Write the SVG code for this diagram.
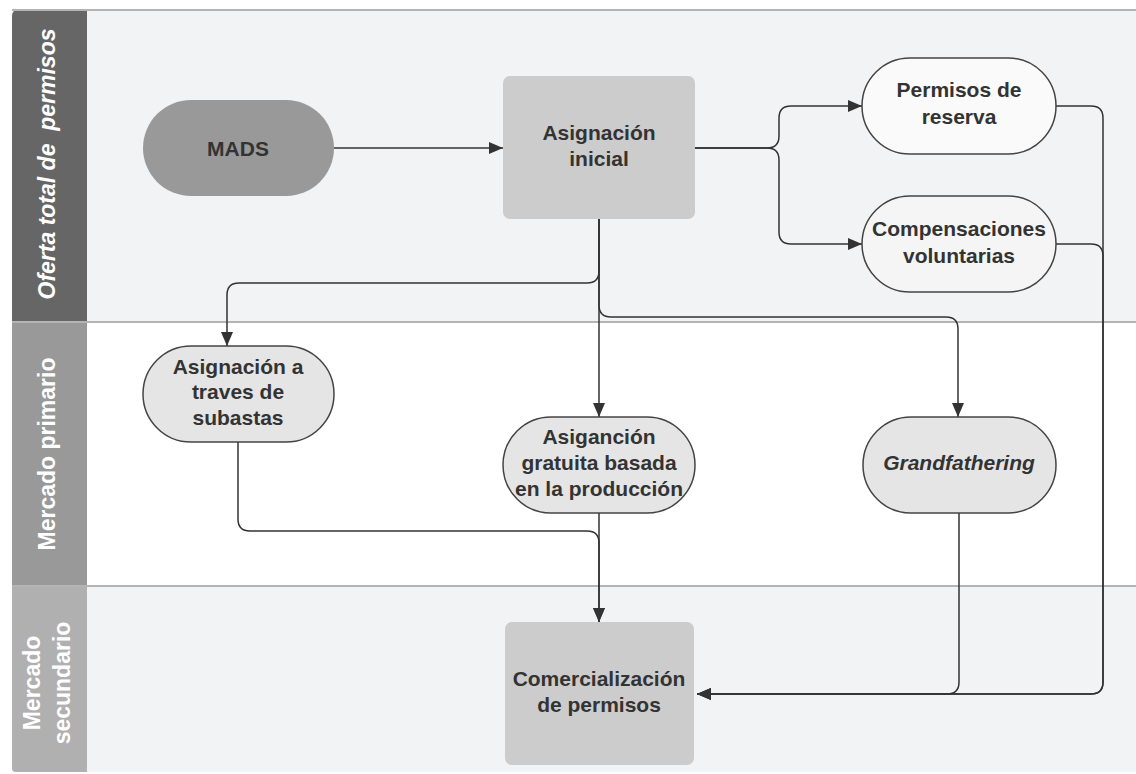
<svg xmlns="http://www.w3.org/2000/svg" width="1136" height="774" viewBox="0 0 1136 774">
<style>
.lbl{font-family:"Liberation Sans",Arial,sans-serif;font-weight:bold;fill:#fff;font-size:23px;text-anchor:middle}
.nt{font-family:"Liberation Sans",Arial,sans-serif;font-weight:bold;fill:#333;font-size:21px;text-anchor:middle}
.pill{stroke:#444;stroke-width:1.5}
.con{fill:none;stroke:#333;stroke-width:1.5}
.div{stroke:#b4b4b4;stroke-width:2}
</style>
<defs>
<marker id="ah" viewBox="0 0 14 12" refX="14" refY="6" markerWidth="14" markerHeight="12" markerUnits="userSpaceOnUse" orient="auto">
<path d="M0,0 L14,6 L0,12 z" fill="#333"/>
</marker>
</defs>
<rect width="1136" height="774" fill="#fff"/>
<g id="lanes">
<rect x="12" y="10" width="1130" height="312" fill="#f2f3f5"/>
<rect x="12" y="322" width="1130" height="264" fill="#ffffff"/>
<rect x="12" y="586" width="1130" height="186" fill="#f2f3f5"/>
<path d="M12,322 V16 Q12,10 18,10 H87 V322 z" fill="#666"/>
<rect x="12" y="323" width="75" height="262" fill="#999"/>
<path d="M12,587 H87 V772 H16 Q12,772 12,768 z" fill="#b0b0b0"/>
<line class="div" x1="12" y1="10" x2="1136" y2="10"/>
<line class="div" x1="12" y1="322" x2="1136" y2="322"/>
<line class="div" x1="12" y1="586" x2="1136" y2="586"/>
<text class="lbl" font-style="italic" xml:space="preserve" transform="translate(55,164) rotate(-90)">Oferta total de  permisos</text>
<text class="lbl" transform="translate(55,454) rotate(-90)">Mercado primario</text>
<text class="lbl" transform="translate(0,683) rotate(-90)"><tspan x="0" y="40">Mercado</tspan><tspan x="0" y="70">secundario</tspan></text>
</g>
<g id="connectors">
<path class="con" marker-end="url(#ah)" d="M334,148 H503"/>
<path class="con" marker-end="url(#ah)" d="M695,148 H767 Q779,148 779,136 V118 Q779,106 791,106 H862"/>
<path class="con" marker-end="url(#ah)" d="M695,148 H767 Q779,148 779,160 V232 Q779,244 791,244 H862"/>
<path class="con" marker-end="url(#ah)" d="M599,219 V271 Q599,283 587,283 H239 Q227,283 227,295 V346"/>
<path class="con" marker-end="url(#ah)" d="M599,219 V417"/>
<path class="con" marker-end="url(#ah)" d="M599,219 V305 Q599,317 611,317 H946 Q958,317 958,329 V417"/>
<path class="con" marker-end="url(#ah)" d="M238,442 V519 Q238,531 250,531 H587 Q599,531 599,543 V622"/>
<path class="con" marker-end="url(#ah)" d="M599,513 V622"/>
<path class="con" marker-end="url(#ah)" d="M959,513 V682 Q959,694 947,694 H697"/>
<path class="con" marker-end="url(#ah)" d="M1056,106 H1091 Q1103,106 1103,118 V682 Q1103,694 1091,694 H697"/>
<path class="con" marker-end="url(#ah)" d="M1056,244 H1091 Q1103,244 1103,256 V682 Q1103,694 1091,694 H697"/>
</g>
<g id="mads">
<rect x="143" y="100" width="191" height="96" rx="48" fill="#999"/>
<text class="nt" x="238" y="156">MADS</text>
</g>
<g id="asignacion-inicial">
<rect x="503" y="76" width="192" height="143" rx="7" fill="#ccc"/>
<text class="nt" x="599" y="140">Asignación</text>
<text class="nt" x="599" y="166">inicial</text>
</g>
<g id="permisos-reserva">
<rect class="pill" x="862" y="58" width="194" height="96" rx="48" fill="#fafafa"/>
<text class="nt" x="959" y="97">Permisos de</text>
<text class="nt" x="959" y="124">reserva</text>
</g>
<g id="compensaciones">
<rect class="pill" x="862" y="196" width="194" height="96" rx="48" fill="#f5f5f5"/>
<text class="nt" x="959" y="236">Compensaciones</text>
<text class="nt" x="959" y="263">voluntarias</text>
</g>
<g id="subastas">
<rect class="pill" x="143" y="346" width="191" height="96" rx="48" fill="#e5e5e5"/>
<text class="nt" x="238" y="374">Asignación a</text>
<text class="nt" x="238" y="399">traves de</text>
<text class="nt" x="238" y="425">subastas</text>
</g>
<g id="gratuita">
<rect class="pill" x="503" y="417" width="192" height="96" rx="48" fill="#e5e5e5"/>
<text class="nt" x="599" y="444">Asiganción</text>
<text class="nt" x="599" y="470">gratuita basada</text>
<text class="nt" x="599" y="496">en la producción</text>
</g>
<g id="grandfathering">
<rect class="pill" x="863" y="417" width="193" height="96" rx="48" fill="#e5e5e5"/>
<text class="nt" font-style="italic" x="959" y="470">Grandfathering</text>
</g>
<g id="comercializacion">
<rect x="505" y="622" width="189" height="143" rx="7" fill="#ccc"/>
<text class="nt" x="599" y="686">Comercialización</text>
<text class="nt" x="599" y="712">de permisos</text>
</g>
</svg>
